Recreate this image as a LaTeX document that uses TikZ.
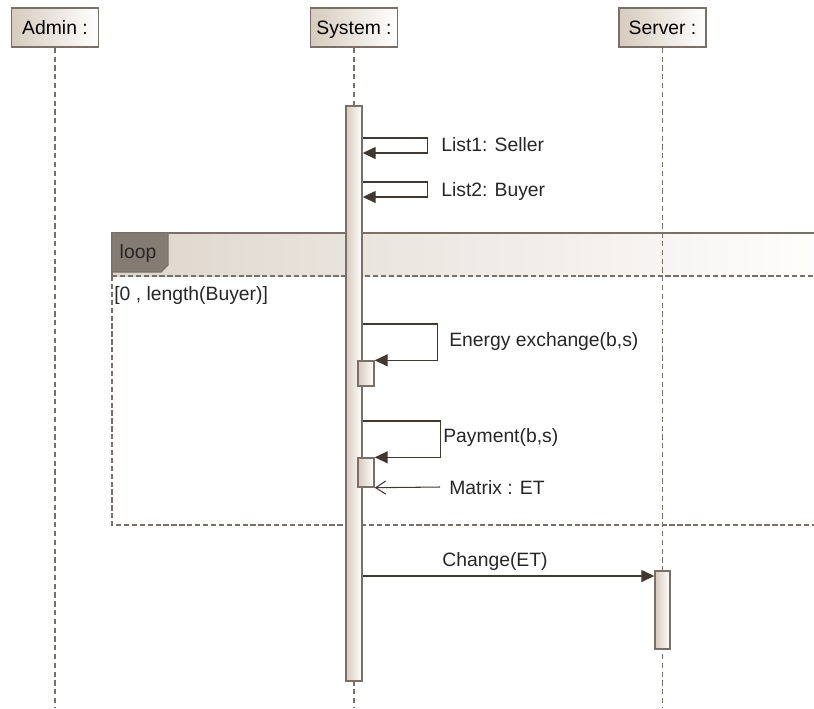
\documentclass[tikz,border=0pt]{standalone}
\usepackage{fontspec}
\setmainfont{Liberation Sans}
\usetikzlibrary{arrows.meta,positioning}

\definecolor{umltan}{RGB}{214,203,189}
\definecolor{umlline}{RGB}{122,112,104}
\definecolor{umlink}{RGB}{66,56,50}
\definecolor{umltab}{RGB}{132,124,115}
\definecolor{umlband}{RGB}{222,214,204}

\begin{document}
\begin{tikzpicture}[
    x=0.02cm, y=-0.02cm,
    font=\fontsize{11}{13}\selectfont,
    lifebox/.style={rectangle, draw=umlline, line width=0.9pt, left color=umltan, right color=white,
        minimum width=1.74cm, minimum height=0.78cm, inner sep=2pt, text height=1.5ex, text depth=0.05ex},
    act/.style={rectangle, draw=umlline, line width=0.8pt, left color=umltan, right color=white,
        minimum width=0.32cm, inner sep=0pt},
    life/.style={umlline, line width=0.7pt, dash pattern=on 3pt off 2pt},
    call/.style={umlink, line width=0.8pt, -{Triangle[length=0.26cm,width=0.24cm]}},
    ret/.style={umlink, line width=0.6pt, -{Straight Barb[length=0.2cm,width=0.26cm]}},
    lbl/.style={anchor=west, inner sep=0pt, text=black!85},
]
\useasboundingbox (0,0) rectangle (814,708);

% --- Loop frame ---
\shade[left color=umlband, right color=white!96!umlband] (112,233) rectangle (814,276);
\draw[umlline, line width=0.9pt] (112,276) |- (814,233);
\draw[umlline, line width=0.7pt, dash pattern=on 3pt off 1.5pt] (112,276) -- (814,276);
\draw[umlline, line width=0.9pt, dash pattern=on 3pt off 1.5pt] (112,276) |- (814,525);
\draw[umlline, line width=0.7pt, fill=umltab] (112,233) -- (168,233) -- (168,265) -- (161,272) -- (112,272) -- cycle;
\node[text=black!85, inner sep=0pt] (looptag) at (138,253) {loop};
\node[lbl] (guard) at (114,295) {[0 , length(Buyer)]};

% --- Lifelines ---
\node[lifebox] (admin) at (55,27.5) {Admin :};
\node[lifebox] (sys) at (354,27.5) {System :};
\node[lifebox] (srv) at (662.5,27.5) {Server :};
\foreach \who in {admin,sys,srv} {
    \draw[life] (\who.south) -- (\who.south |- 0,708);
}

% --- Activations ---
\node[act, minimum height=11.5cm] (sysact) at (354,393.5) {};
\node[act, minimum height=0.5cm] (act1) at (366,373.5) {};
\node[act, minimum height=0.58cm] (act2) at (366,472.5) {};
\node[act, minimum width=0.3cm, minimum height=1.56cm] (srvact) at (662.5,610) {};

% --- Messages ---
\draw[call] (sysact.east |- 0,138) -- ++(65,0) |- (sysact.east |- 0,153);
\node[lbl] (list1) at (441,145) {List1: Seller};
\draw[call] (sysact.east |- 0,182) -- ++(65,0) |- (sysact.east |- 0,197);
\node[lbl] (list2) at (441,191) {List2: Buyer};

\draw[call] (sysact.east |- 0,324) -- ++(75,0) |- (act1.north east);
\node[lbl] (energy) at (449,341) {Energy exchange(b,s)};
\draw[call] (sysact.east |- 0,421) -- ++(78,0) |- (act2.north east);
\node[lbl] (pay) at (443,437) {Payment(b,s)};

\coordinate (mxfrom) at (440,487);
\draw[ret] (mxfrom) -- (act2.south east);
\node[lbl] (matrix) at (449,488) {Matrix : ET};

\draw[call] (sysact.east |- 0,576) -- (srvact.west |- 0,576);
\node[lbl] (change) at (442,561) {Change(ET)};

\end{tikzpicture}
\end{document}
